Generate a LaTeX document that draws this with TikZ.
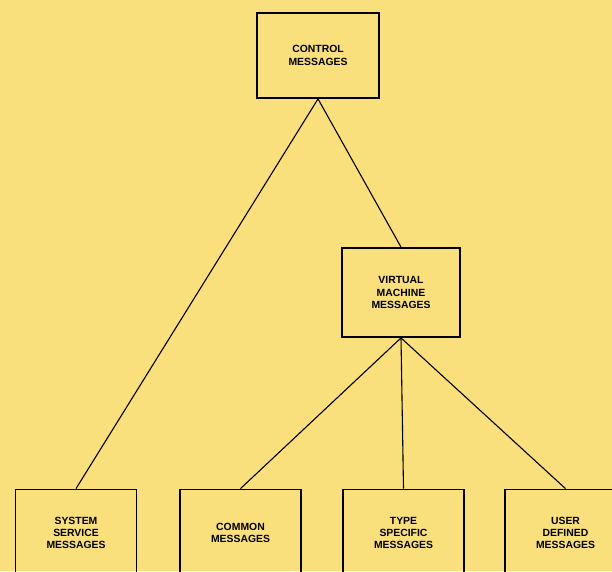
\documentclass[tikz,border=0pt]{standalone}
\usepackage{fontspec}
\setmainfont{Liberation Sans}
\definecolor{bgyellow}{RGB}{249,224,124}
\begin{document}
\begin{tikzpicture}[x=1pt,y=-1pt,
  msgbox/.style={draw=black, line width=1.8pt, minimum width=121pt, minimum height=87pt,
    inner sep=0pt, align=center, font=\fontsize{10.4}{12.2}\selectfont\bfseries},
  link/.style={draw=black, line width=1.1pt}]
\useasboundingbox (0,0) rectangle (612,571);
\fill[bgyellow] (0,0) rectangle (612,571);
\clip (0,0) rectangle (612,571);
\node[msgbox, minimum width=122pt, minimum height=85pt] (ctrl) at (318,55.5) {CONTROL\\MESSAGES};
\node[msgbox, minimum width=118pt, minimum height=89pt] (vm) at (401,292.5) {VIRTUAL\\MACHINE\\MESSAGES};
\node[msgbox] (sys) at (76,533) {SYSTEM\\SERVICE\\MESSAGES};
\node[msgbox] (com) at (240.5,533) {COMMON\\MESSAGES};
\node[msgbox] (typ) at (403.5,533) {TYPE\\SPECIFIC\\MESSAGES};
\node[msgbox] (usr) at (565.5,533) {USER\\DEFINED\\MESSAGES};
\draw[link] (ctrl.south) -- (sys.north);
\draw[link] (ctrl.south) -- (vm.north);
\draw[link] (vm.south) -- (com.north);
\draw[link] (vm.south) -- (typ.north);
\draw[link] (vm.south) -- (usr.north);
\end{tikzpicture}
\end{document}
